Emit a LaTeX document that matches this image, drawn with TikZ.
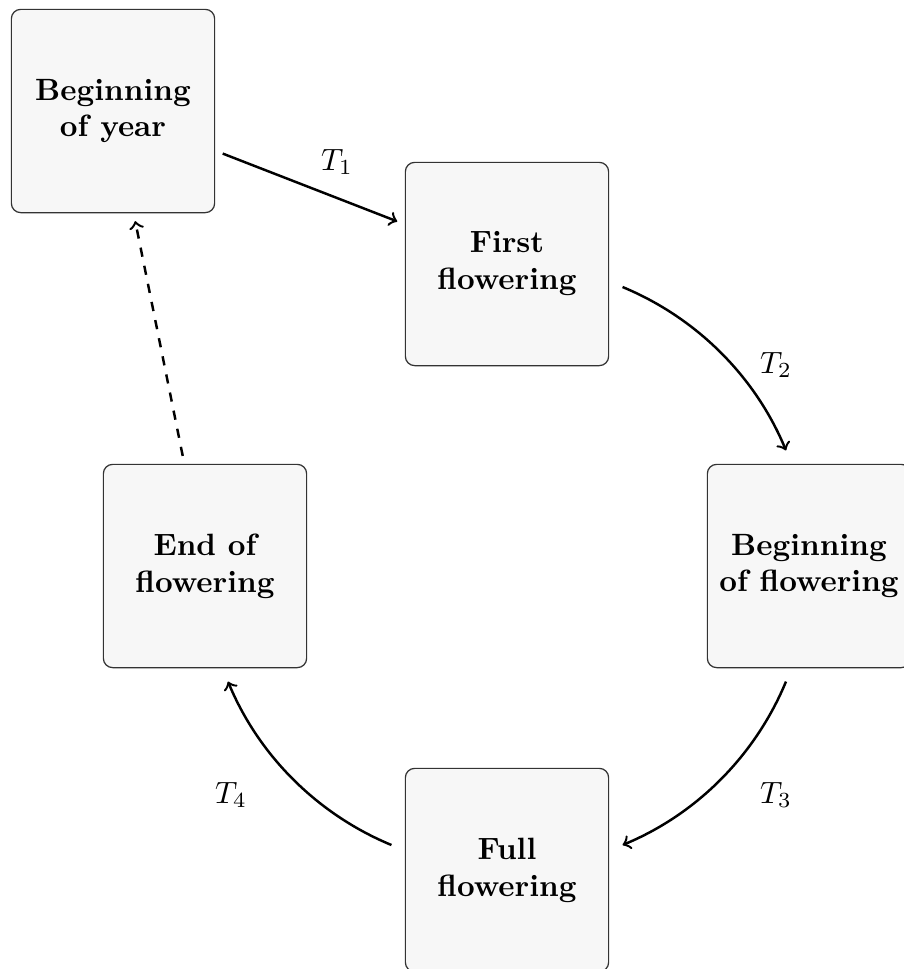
\documentclass[tikz,border=0pt]{standalone}
\usetikzlibrary{calc}
\begin{document}
\begin{tikzpicture}[x=0.3247pt,y=0.3247pt,
  stagebox/.style={draw=black!80,line width=0.4pt,fill=black!3,rounded corners=3pt,
    minimum width=66pt,minimum height=66pt,align=center,font=\bfseries,inner sep=0pt},
  arr/.style={->,thick,shorten >=2.6pt,shorten <=2.6pt},
  arcarr/.style={->,thick},
  lab/.style={inner sep=0pt}]
\useasboundingbox (0,0) rectangle (904,-969);
\clip (0,0) rectangle (904,-969);
\node[stagebox] (by) at (113,-111) {Beginning\\of year};
\node[stagebox] (ff) at (507,-264) {First\\flowering};
\node[stagebox] (bf) at (809,-566) {Beginning\\of flowering};
\node[stagebox] (ef) at (205,-566) {End of\\flowering};
\node[stagebox] (full) at (507,-870) {Full\\flowering};
\coordinate (c) at (507,-566);
\coordinate (t2s) at ($(c)+(67.5:302)$);
\coordinate (t3s) at ($(c)+(-22.5:302)$);
\coordinate (t4s) at ($(c)+(-112.5:302)$);
\draw[arr] (by) -- (ff);
\draw[arcarr] (t2s) arc[start angle=67.5,end angle=22.5,radius=302];
\draw[arcarr] (t3s) arc[start angle=-22.5,end angle=-67.5,radius=302];
\draw[arcarr] (t4s) arc[start angle=-112.5,end angle=-157.5,radius=302];
\draw[arr,dashed] (ef) -- (by);
\node[lab] (l1) at (337,-162) {$T_1$};
\node[lab] (l2) at (776,-365) {$T_2$};
\node[lab] (l3) at (776,-795) {$T_3$};
\node[lab] (l4) at (231,-795) {$T_4$};
\end{tikzpicture}
\end{document}
